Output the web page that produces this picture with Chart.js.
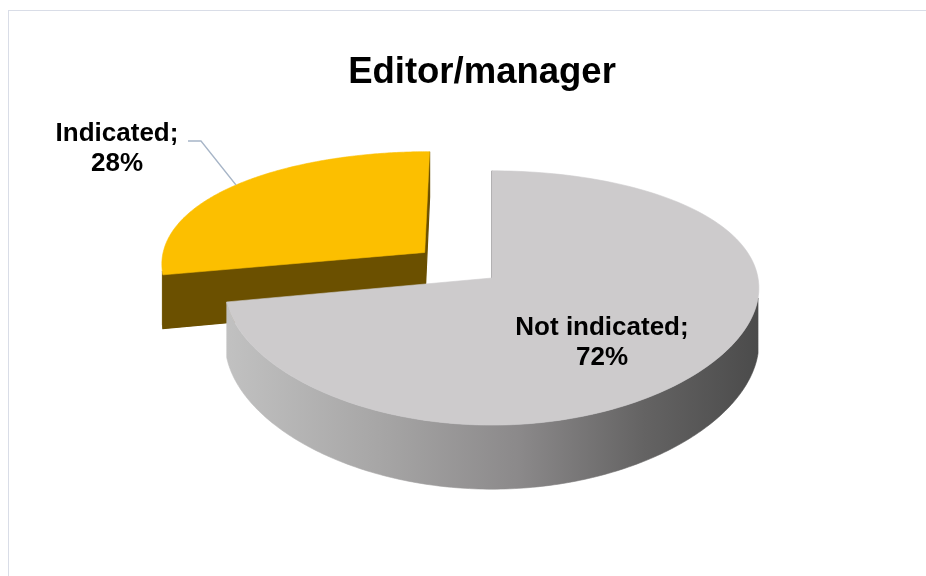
<!DOCTYPE html>
<html>
<head>
<meta charset="utf-8">
<title>Editor/manager</title>
<script src="https://cdn.jsdelivr.net/npm/chart.js@4.4.1/dist/chart.umd.min.js"></script>
<style>
  html, body { margin: 0; padding: 0; background: #ffffff; }
  #wrap { width: 926px; height: 576px; position: relative; }
</style>
</head>
<body>
<div id="wrap"><canvas id="c"></canvas></div>
<script>
// ---- data ----
const chartTitle = 'Editor/manager';
const categories = ['Not indicated', 'Indicated'];
const shares = [72, 28];

// ---- styles ----
const FONT = '"Liberation Sans", Arial, "Helvetica Neue", sans-serif';
const topColors = ['#cdcbcc', '#fcbf00'];

// Tilted-disc projection: horizontal/vertical radii, extrusion depth (all relative
// to the pie radius Chart.js computes) and a mild perspective along the depth axis
// (a little weaker horizontally than vertically).
const TILT = { sx: 266 / 150, sy: 124 / 150, depth: 54 / 150, perspX: 0.08, perspY: 0.157 };

function makeProjector(cx, cy, R) {
  return (u, v, h) => {
    const kx = 1 / (1 - TILT.perspX * v);
    const ky = 1 / (1 - TILT.perspY * v);
    return [cx + R * TILT.sx * u * kx, cy + R * TILT.sy * v * ky + R * TILT.depth * h * ky];
  };
}

function polyArea(pts) {
  let s = 0;
  for (let i = 0; i < pts.length; i++) {
    const a = pts[i], b = pts[(i + 1) % pts.length];
    s += a[0] * b[1] - b[0] * a[1];
  }
  return s / 2;
}

function tracePath(ctx, pts) {
  ctx.beginPath();
  ctx.moveTo(pts[0][0], pts[0][1]);
  for (let i = 1; i < pts.length; i++) ctx.lineTo(pts[i][0], pts[i][1]);
  ctx.closePath();
}

// Draws the pie slices Chart.js laid out as an extruded, tilted 3D pie.
const pie3d = {
  id: 'pie3d',
  beforeDraw(chart, args, opts) {
    const ctx = chart.ctx;
    ctx.save();
    ctx.strokeStyle = opts.frameColor;
    ctx.lineWidth = 1;
    ctx.strokeRect(8.5, 10.5, 1000, 1000);
    ctx.restore();
  },
  beforeDatasetsDraw(chart, args, opts) {
    const ctx = chart.ctx;
    const arcs = chart.getDatasetMeta(0).data;
    const R = arcs[0].outerRadius, cx = arcs[0].x, cy = arcs[0].y;
    const proj = makeProjector(cx, cy, R);
    const STEPS = 180;

    const slices = arcs.map((el, i) => {
      const a0 = el.startAngle, a1 = el.endAngle, mid = (a0 + a1) / 2;
      const e = opts.explode[i] || 0;
      const ox = e * Math.cos(mid), oy = e * Math.sin(mid);
      const pt = (t, r, h) => proj(ox + r * Math.cos(t), oy + r * Math.sin(t), h);
      return { i, a0, a1, mid, pt, key: oy + 0.5 * Math.sin(mid) };
    });
    chart.$pie3d = { slices };
    slices.sort((a, b) => a.key - b.key);

    const lo = Math.asin(TILT.perspY), hi = Math.PI - lo;
    const gx0 = cx - R * TILT.sx * 1.02, gx1 = cx + R * TILT.sx * 1.02;

    slices.forEach(s => {
      const st = opts.styles[s.i];
      // outer wall (front-facing part only)
      for (const shift of [-2 * Math.PI, 0, 2 * Math.PI]) {
        const w0 = Math.max(s.a0, lo + shift), w1 = Math.min(s.a1, hi + shift);
        if (w1 <= w0) continue;
        const pts = [];
        for (let k = 0; k <= STEPS; k++) pts.push(s.pt(w0 + (w1 - w0) * k / STEPS, 1, 0));
        for (let k = STEPS; k >= 0; k--) pts.push(s.pt(w0 + (w1 - w0) * k / STEPS, 1, 1));
        const g = ctx.createLinearGradient(gx0, 0, gx1, 0);
        st.wall.forEach(([p, c]) => g.addColorStop(p, c));
        ctx.save();
        tracePath(ctx, pts);
        ctx.fillStyle = g;
        ctx.fill();
        ctx.strokeStyle = g;
        ctx.lineWidth = 0.6;
        ctx.stroke();
        ctx.restore();
      }
      // radial cut faces that face the viewer
      [[s.a0, -1], [s.a1, 1]].forEach(([t, sign]) => {
        const face = [s.pt(t, 0, 0), s.pt(t, 1, 0), s.pt(t, 1, 1), s.pt(t, 0, 1)];
        const area = polyArea(face) * sign;
        if (area < -2) return;
        ctx.save();
        tracePath(ctx, face);
        ctx.fillStyle = st.face;
        ctx.fill();
        ctx.strokeStyle = st.faceEdge;
        ctx.lineWidth = 1.2;
        ctx.stroke();
        ctx.restore();
      });
      // top face
      const top = [s.pt(0, 0, 0)];
      for (let k = 0; k <= STEPS; k++) top.push(s.pt(s.a0 + (s.a1 - s.a0) * k / STEPS, 1, 0));
      ctx.save();
      tracePath(ctx, top);
      ctx.fillStyle = topColors[s.i];
      ctx.fill();
      ctx.strokeStyle = topColors[s.i];
      ctx.lineWidth = 0.6;
      ctx.stroke();
      ctx.restore();
    });
    return false;
  },
  afterDraw(chart, args, opts) {
    const ctx = chart.ctx;
    const geo = chart.$pie3d;
    ctx.save();
    // title
    ctx.fillStyle = '#000000';
    ctx.textAlign = 'center';
    ctx.textBaseline = 'alphabetic';
    ctx.font = 'bold 36.5px ' + FONT;
    ctx.fillText(chartTitle, opts.titlePos.x, opts.titlePos.y);

    // data labels
    ctx.font = 'bold 26px ' + FONT;
    geo.slices.forEach(s => {
      const lp = opts.labelPos[s.i];
      const lines = [categories[s.i] + ';', shares[s.i] + '%'];
      if (lp.leader) {
        const end = s.pt(s.mid, 1, 0);
        ctx.beginPath();
        ctx.moveTo(lp.leader.x, lp.leader.y);
        ctx.lineTo(lp.leader.x + 13, lp.leader.y);
        ctx.lineTo(end[0], end[1]);
        ctx.strokeStyle = opts.leaderColor;
        ctx.lineWidth = 1.3;
        ctx.stroke();
      }
      ctx.fillStyle = '#000000';
      lines.forEach((t, j) => ctx.fillText(t, lp.x, lp.y + j * 30));
    });
    ctx.restore();
  }
};

new Chart(document.getElementById('c'), {
  type: 'pie',
  data: {
    labels: categories,
    datasets: [{ data: shares, backgroundColor: topColors, borderWidth: 0 }]
  },
  options: {
    responsive: true,
    maintainAspectRatio: false,
    animation: false,
    events: [],
    layout: { padding: { left: 342, right: 284, top: 128, bottom: 148 } },
    plugins: {
      legend: { display: false },
      tooltip: { enabled: false },
      title: { display: false },
      pie3d: {
        frameColor: '#d9dde7',
        leaderColor: '#a7b5c7',
        explode: [0, 0.334],
        titlePos: { x: 482, y: 83 },
        labelPos: [
          { x: 602, y: 335 },
          { x: 117, y: 141, leader: { x: 188, y: 141 } }
        ],
        styles: [
          { wall: [[0, '#c2c2c2'], [0.3, '#a6a5a5'], [0.55, '#8b898a'], [0.78, '#646363'], [1, '#4a4a4a']],
            face: '#7d7d7d', faceEdge: '#6e6e6e' },
          { wall: [[0, '#7a5b00'], [1, '#5c4400']],
            face: '#6b5000', faceEdge: '#6b5000' }
        ]
      }
    }
  },
  plugins: [pie3d]
});
</script>
</body>
</html>
